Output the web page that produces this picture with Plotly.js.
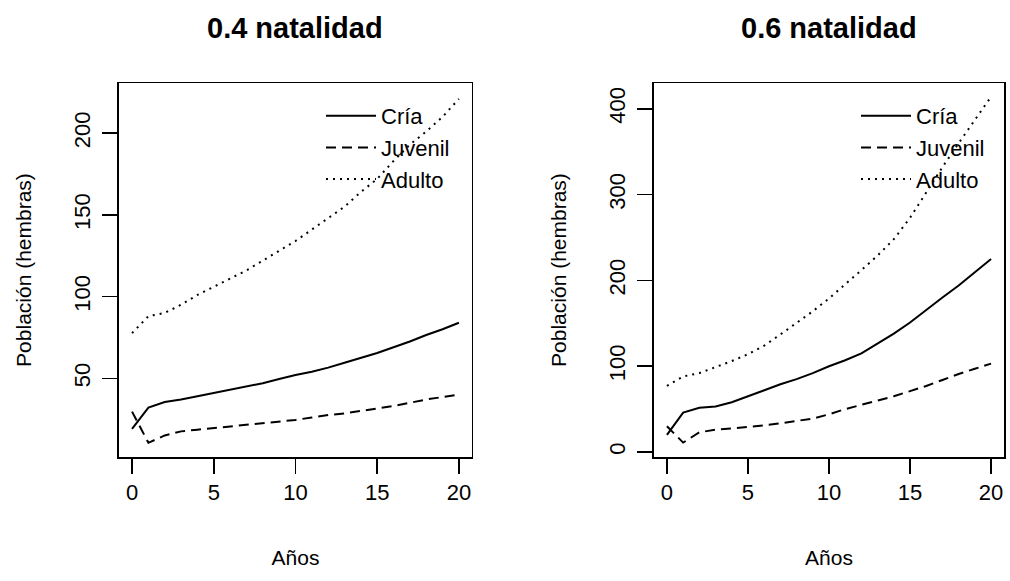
<!DOCTYPE html>
<html>
<head>
<meta charset="utf-8">
<script src="https://cdn.plot.ly/plotly-3.0.1.min.js"></script>
<style>html,body{margin:0;padding:0;background:#fff;}#chart{width:1010px;height:581px;}</style>
</head>
<body>
<div id="chart"></div>
<script>
// Years
const years = [0,1,2,3,4,5,6,7,8,9,10,11,12,13,14,15,16,17,18,19,20];

// Panel 1: 0.4 natalidad
const cria04    = [19,32,35.5,37,39,41,43,45,47,49.5,52,54,56.5,59.5,62.5,65.5,69,72.5,76.5,80,84];
const juvenil04 = [29.6,10.5,15,17.5,18.5,19.5,20.5,21.5,22.5,23.5,24.5,26,27.5,28.5,30,31.5,33,35,37,38.5,40];
const adulto04  = [77.6,88,90,95,101,106,111,116,122,128,134,141,148,155,164,172,183,193,201,210,221];

// Panel 2: 0.6 natalidad
const cria06    = [20,46,51.5,53,58,65,72,79,85,92,100,107,115,126,138,151,166,180,194,210,225];
const juvenil06 = [30,11,23,26,27.5,29,31,33.5,36,39,44,50,55,60,65,71,77,84,91,97,103];
const adulto06  = [77,88,92,99,106,114,124,137,150,164,179,195,212,229,248,273,303,332,360,387,414];

const seriesNames = ["Cría","Juvenil","Adulto"];
const panelTitles = ["0.4 natalidad","0.6 natalidad"];
const xTicks = [0,5,10,15,20];
const yTicks1 = [50,100,150,200];
const yTicks2 = [0,100,200,300,400];
const xTitle = "Años";
const yTitle = "Población (hembras)";

const FONT = "Liberation Sans, Arial, Helvetica, sans-serif";
const dashes = ["solid","10px,6px","2px,5px"];
const lw = 2;

function mk(y, i, xa, ya, leg) {
  return {
    x: years, y: y, type: "scatter", mode: "lines",
    name: seriesNames[i], xaxis: xa, yaxis: ya, legend: leg,
    line: {color: "#000", width: lw, dash: dashes[i]},
    hoverinfo: "skip"
  };
}

const data = [
  mk(cria04,0,"x","y","legend"), mk(juvenil04,1,"x","y","legend"), mk(adulto04,2,"x","y","legend"),
  mk(cria06,0,"x2","y2","legend2"), mk(juvenil06,1,"x2","y2","legend2"), mk(adulto06,2,"x2","y2","legend2")
];

const tickFont = {family: FONT, size: 22, color: "#000"};
function xax(dom, anchor) {
  return {
    domain: dom, anchor: anchor, range: [-0.8, 20.8], tickvals: xTicks,
    ticks: "outside", ticklen: 15, tickwidth: 1.5, tickcolor: "#000",
    showline: true, mirror: true, linecolor: "#000", linewidth: 1.5,
    showgrid: false, zeroline: false, tickfont: tickFont,
    title: {text: xTitle, font: {family: FONT, size: 21, color: "#000"}, standoff: 46}
  };
}
function yax(range, ticks, anchor) {
  return {
    domain: [0.2134, 0.8571], anchor: anchor, range: range, tickvals: ticks,
    ticks: "outside", ticklen: 15, tickwidth: 1.5, tickcolor: "#000", tickangle: -90,
    ticklabelstandoff: 4,
    showline: true, mirror: true, linecolor: "#000", linewidth: 1.5,
    showgrid: false, zeroline: false, tickfont: tickFont,
    title: {text: yTitle, font: {family: FONT, size: 21, color: "#000"}, standoff: 32}
  };
}
function leg(x) {
  return {
    x: x, y: 1 - 95/581, xanchor: "left", yanchor: "top", xref: "paper", yref: "paper",
    bgcolor: "rgba(0,0,0,0)", borderwidth: 0,
    font: {family: FONT, size: 22, color: "#000"}, itemwidth: 50, tracegroupgap: 0
  };
}

const layout = {
  width: 1010, height: 581,
  margin: {l: 0, r: 0, t: 0, b: 0},
  paper_bgcolor: "#fff", plot_bgcolor: "#fff",
  showlegend: true,
  xaxis: xax([0.1178, 0.4673], "y"),
  yaxis: yax([1.8, 230.7], yTicks1, "x"),
  xaxis2: xax([0.6475, 0.9941], "y2"),
  yaxis2: yax([-5.8, 430], yTicks2, "x2"),
  legend: leg(321/1010),
  legend2: leg(856/1010),
  annotations: [
    {text: "<b>" + panelTitles[0] + "</b>", xref: "paper", yref: "paper", x: 0.2925, y: 1 - 28/581,
     xanchor: "center", yanchor: "middle", showarrow: false, font: {family: FONT, size: 29, color: "#000"}},
    {text: "<b>" + panelTitles[1] + "</b>", xref: "paper", yref: "paper", x: 0.8208, y: 1 - 28/581,
     xanchor: "center", yanchor: "middle", showarrow: false, font: {family: FONT, size: 29, color: "#000"}}
  ]
};

Plotly.newPlot("chart", data, layout, {displayModeBar: false, staticPlot: true});
</script>
</body>
</html>
